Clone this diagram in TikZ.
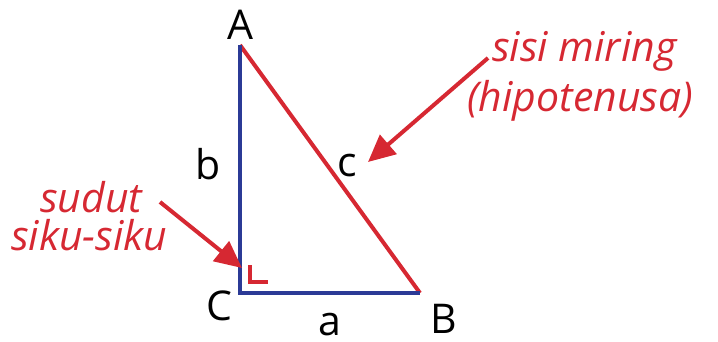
\documentclass[tikz,border=0pt]{standalone}
\usepackage{fontspec}
\setmainfont{Open Sans}
\usetikzlibrary{arrows.meta}
\definecolor{tred}{HTML}{D62832}
\definecolor{tblue}{HTML}{2B3A96}
\tikzset{
  leg/.style={draw=tblue, line width=4pt},
  hyp/.style={draw=tred, line width=4pt},
  lbl/.style={anchor=base, inner sep=0pt, font=\fontsize{41}{41}\selectfont},
  note/.style={anchor=base west, inner sep=0pt, text=tred, font=\fontsize{41}{41}\selectfont\itshape},
  pointer/.style={draw=tred, line width=4pt, -{Triangle[length=27pt,width=25pt]}}
}
\begin{document}
\begin{tikzpicture}[x=1pt,y=-1pt]
\useasboundingbox (0,0) rectangle (718,342);
\coordinate (A) at (240,45);
\coordinate (C) at (240,293);
\coordinate (B) at (420,293);
\draw[hyp, line cap=butt] (A) -- (B);
\draw[leg, line join=miter] (A) -- (C) -- (B);
\coordinate (r1) at (250,265);
\coordinate (r2) at (250,282);
\coordinate (r3) at (268,282);
\draw[hyp, line width=3.5pt, line join=miter] (r1) -- (r2) -- (r3);
\node[lbl] (lA) at (240,40) {A};
\node[lbl] (lb) at (208.5,180) {b};
\node[lbl] (lc) at (347,177) {c};
\node[lbl] (lC) at (219.5,320) {C};
\node[lbl] (la) at (330,335) {a};
\node[lbl] (lB) at (444,333) {B};
\node[note] (n1) at (492,62) {sisi miring};
\node[note] (n2) at (467,112) {(hipotenusa)};
\node[note] (n3) at (40,212) {sudut};
\node[note] (n4) at (11,250) {siku-siku};
\coordinate (p1s) at (488,58);
\coordinate (p1e) at (368,162);
\coordinate (p2s) at (160,202);
\coordinate (p2e) at (242,268);
\draw[pointer] (p1s) -- (p1e);
\draw[pointer] (p2s) -- (p2e);
\end{tikzpicture}
\end{document}
